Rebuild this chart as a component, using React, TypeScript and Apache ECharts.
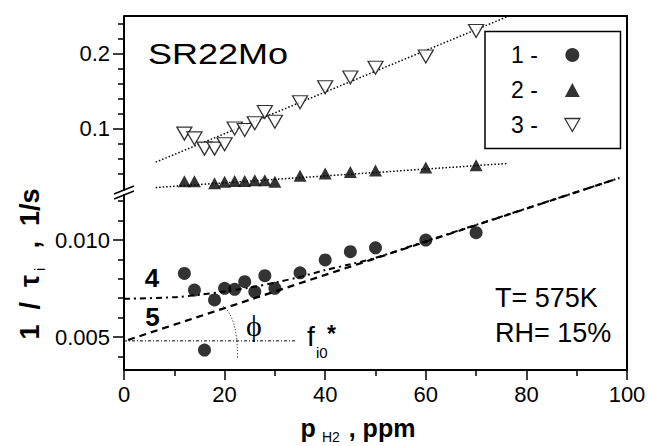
import React, { useEffect, useRef } from 'react';
import * as echarts from 'echarts';

// ---- data ----
const xTickStep = 20;
const series1X = [12, 14, 16, 18, 20, 22, 24, 26, 28, 30, 35, 40, 45, 50, 60, 70];
const series1Y = [0.00828, 0.00742, 0.00433, 0.00691, 0.00751, 0.00746, 0.00785, 0.00733, 0.00816, 0.00751, 0.00831, 0.00897, 0.0094, 0.0096, 0.0100, 0.01038];
const series2X = [12, 14, 18, 20, 22, 24, 26, 28, 30, 35, 40, 45, 50, 60, 70];
const series2Y = [0.0296, 0.0296, 0.027, 0.029, 0.030, 0.030, 0.031, 0.031, 0.029, 0.037, 0.040, 0.042, 0.044, 0.048, 0.051];
const series3X = [12, 14, 16, 18, 20, 22, 24, 26, 28, 30, 35, 40, 45, 50, 60, 70];
const series3Y = [0.0933, 0.0867, 0.0733, 0.0733, 0.079, 0.1, 0.098, 0.107, 0.122, 0.109, 0.135, 0.155, 0.168, 0.181, 0.196, 0.230];
const fit2 = [[6.3, 0.0213], [76.1, 0.0533]];
const fit3 = [[6.3, 0.0551], [76.1, 0.2488]];
const line5 = [[0.8, 0.00485], [98.5, 0.0132]];
const line4 = [[0, 0.00697], [10, 0.00705], [15, 0.00718], [20, 0.00735], [25, 0.00755], [30, 0.0078], [35, 0.0081], [40, 0.00845], [45, 0.00875], [50, 0.00908], [60, 0.00994], [70, 0.01078], [98.5, 0.0132]];
const fLine = [[0, 0.0048], [34, 0.0048]];
const upperMinorTicks = [0.04, 0.06, 0.08, 0.12, 0.14, 0.16, 0.18, 0.22, 0.24];
const upperMajorTicks = [0.1, 0.2];
const lowerMinorTicks = [0.004, 0.006, 0.007, 0.008, 0.009, 0.011, 0.012];
const lowerMajorTicks = [0.005, 0.010];
const legendNames = ['1 -', '2 -', '3 -'];

const FONT = '"Liberation Sans", Arial, sans-serif';
const pts = (xs: number[], ys: number[]) => xs.map((x, i) => [x, ys[i]]);
const downTri = 'path://M0,0 L10,0 L5,8.7 Z';

export default function App() {
  const ref = useRef<HTMLDivElement>(null);
  useEffect(() => {
    document.body.style.margin = '0';
    const chart = echarts.init(ref.current!, null, { renderer: 'svg' });
    const axisLine = { show: true, lineStyle: { color: '#000', width: 2 } };
    const label = { color: '#000', fontSize: 22, fontFamily: FONT };
    const lineBase = { type: 'line', showSymbol: false, symbol: 'none', silent: true, z: 1 };
    chart.setOption({
      animation: false,
      backgroundColor: '#fff',
      grid: [
        { left: 124, right: 21, top: 16, height: 174, containLabel: false, outerBoundsMode: 'none' },
        { left: 124, right: 21, top: 195, height: 175, containLabel: false, outerBoundsMode: 'none' },
      ],
      xAxis: [
        { gridIndex: 0, type: 'value', min: 0, max: 100, show: false },
        {
          gridIndex: 1, type: 'value', min: 0, max: 100, interval: xTickStep,
          axisLine, splitLine: { show: false },
          axisTick: { length: 10, lineStyle: { color: '#000', width: 1.5 } },
          minorTick: { show: true, splitNumber: 2, length: 6, lineStyle: { color: '#000', width: 1.5 } },
          axisLabel: { ...label, margin: 13 },
        },
      ],
      yAxis: [
        {
          gridIndex: 0, type: 'value', position: 'left', min: 0.018, max: 0.25, axisLine, splitLine: { show: false },
          axisTick: { show: true, customValues: upperMinorTicks, length: 6, lineStyle: { color: '#000', width: 1.5 } },
          axisLabel: { show: false },
        },
        {
          gridIndex: 0, type: 'value', position: 'left', offset: 0, min: 0.018, max: 0.25, axisLine: { show: false }, splitLine: { show: false },
          axisTick: { show: true, customValues: upperMajorTicks, length: 11, lineStyle: { color: '#000', width: 1.5 } },
          axisLabel: { ...label, margin: 14, customValues: upperMajorTicks },
        },
        {
          gridIndex: 1, type: 'value', position: 'left', min: 0.0033, max: 0.01232, axisLine, splitLine: { show: false },
          axisTick: { show: true, customValues: lowerMinorTicks, length: 6, lineStyle: { color: '#000', width: 1.5 } },
          axisLabel: { show: false },
        },
        {
          gridIndex: 1, type: 'value', position: 'left', offset: 0, min: 0.0033, max: 0.01232, axisLine: { show: false }, splitLine: { show: false },
          axisTick: { show: true, customValues: lowerMajorTicks, length: 11, lineStyle: { color: '#000', width: 1.5 } },
          axisLabel: { ...label, margin: 14, customValues: lowerMajorTicks, formatter: (v: number) => v.toFixed(3) },
        },
      ],
      legend: {
        orient: 'vertical', left: 485, top: 31.5, align: 'right',
        itemWidth: 15, itemHeight: 14, itemGap: 12,
        padding: [12, 40, 12, 26],
        borderColor: '#000', borderWidth: 1.5,
        textStyle: { color: '#000', fontSize: 23, fontFamily: FONT, lineHeight: 22, padding: [0, 22, 0, 0] },
        data: [
          { name: legendNames[0] },
          { name: legendNames[1] },
          { name: legendNames[2], itemStyle: { color: '#fff', borderColor: '#000', borderWidth: 1.3 } },
        ],
      },
      series: [
        { ...lineBase, name: 'fit3', xAxisIndex: 0, yAxisIndex: 0, data: fit3, lineStyle: { color: '#000', width: 1.5, type: [1.5, 2] } },
        { ...lineBase, name: 'fit2', xAxisIndex: 0, yAxisIndex: 0, data: fit2, lineStyle: { color: '#000', width: 1.5, type: [1.5, 2] } },
        { ...lineBase, name: 'line5', xAxisIndex: 1, yAxisIndex: 2, data: line5, clip: false, lineStyle: { color: '#000', width: 2.2, type: [7, 5] } },
        { ...lineBase, name: 'line4', xAxisIndex: 1, yAxisIndex: 2, data: line4, clip: false, smooth: 0.3, lineStyle: { color: '#000', width: 2, type: [6, 4, 2, 4] } },
        { ...lineBase, name: 'fLine', xAxisIndex: 1, yAxisIndex: 2, data: fLine, lineStyle: { color: '#000', width: 1, type: [3, 2, 1, 2] } },
        {
          type: 'scatter', name: legendNames[0], xAxisIndex: 1, yAxisIndex: 2, data: pts(series1X, series1Y),
          symbol: 'circle', symbolSize: 13, itemStyle: { color: '#000' }, z: 3,
        },
        {
          type: 'scatter', name: legendNames[1], xAxisIndex: 0, yAxisIndex: 0, data: pts(series2X, series2Y),
          symbol: 'triangle', symbolSize: [13, 12], itemStyle: { color: '#000' }, z: 3,
        },
        {
          type: 'scatter', name: legendNames[2], xAxisIndex: 0, yAxisIndex: 0, data: pts(series3X, series3Y),
          symbol: downTri, symbolSize: [15, 13], symbolKeepAspect: false,
          itemStyle: { color: '#fff', borderColor: '#000', borderWidth: 1.3 }, z: 3,
        },
      ],
      graphic: [
        { type: 'polyline', shape: { points: [[124, 16], [627, 16], [627, 370]] }, style: { stroke: '#000', lineWidth: 2, fill: null }, z: 10 },
        { type: 'line', shape: { x1: 114, y1: 194, x2: 134, y2: 186 }, style: { stroke: '#000', lineWidth: 1.5 }, z: 10 },
        { type: 'line', shape: { x1: 114, y1: 199, x2: 134, y2: 191 }, style: { stroke: '#000', lineWidth: 1.5 }, z: 10 },
        { type: 'text', x: 148, y: 54, scaleX: 1.2, style: { text: 'SR22Mo', fontSize: 30, fontFamily: FONT, fill: '#000', verticalAlign: 'middle' }, z: 10 },
        { type: 'text', x: 495, y: 298, style: { text: 'T= 575K', fontSize: 27, fontFamily: FONT, fill: '#000', verticalAlign: 'middle' }, z: 10 },
        { type: 'text', x: 495, y: 333, style: { text: 'RH= 15%', fontSize: 27, fontFamily: FONT, fill: '#000', verticalAlign: 'middle' }, z: 10 },
        { type: 'text', x: 152, y: 278, style: { text: '4', fontSize: 26, fontWeight: 'bold', fontFamily: FONT, fill: '#000', align: 'center', verticalAlign: 'middle' }, z: 10 },
        { type: 'text', x: 152.5, y: 317, style: { text: '5', fontSize: 26, fontWeight: 'bold', fontFamily: FONT, fill: '#000', align: 'center', verticalAlign: 'middle' }, z: 10 },
        { type: 'text', x: 254, y: 325, style: { text: 'ϕ', fontSize: 30, fontFamily: '"Liberation Serif", "DejaVu Serif", serif', fill: '#000', align: 'center', verticalAlign: 'middle' }, z: 10 },
        { type: 'text', x: 307, y: 336, style: { text: 'f', fontSize: 28, fontFamily: FONT, fill: '#000', verticalAlign: 'middle' }, z: 10 },
        { type: 'text', x: 316, y: 352, style: { text: 'i0', fontSize: 15, fontFamily: FONT, fill: '#000', verticalAlign: 'middle' }, z: 10 },
        { type: 'text', x: 327, y: 334, style: { text: '*', fontSize: 23, fontWeight: 'bold', fontFamily: FONT, fill: '#000', verticalAlign: 'middle' }, z: 10 },
        { type: 'bezierCurve', shape: { x1: 223, y1: 306, cpx1: 238, cpy1: 318, x2: 237.5, y2: 358 }, style: { stroke: '#000', lineWidth: 1, lineDash: [1, 2], fill: null }, z: 10 },
        {
          type: 'text', x: 358, y: 428,
          style: {
            text: '{a|p}{s|H2}{a| , ppm}', align: 'center', verticalAlign: 'middle', fill: '#000',
            rich: {
              a: { fontSize: 25, fontWeight: 'bold', fontFamily: FONT, lineHeight: 32, verticalAlign: 'middle' },
              s: { fontSize: 14, fontWeight: 'normal', fontFamily: FONT, lineHeight: 14, verticalAlign: 'bottom', padding: [0, 2, 0, 6] },
            },
          }, z: 10,
        },
        {
          type: 'text', x: 30, y: 264, rotation: Math.PI / 2,
          style: {
            text: '{a|1  /  τ}{s|i}{a|  ,  1/s}', align: 'center', verticalAlign: 'middle', fill: '#000',
            rich: {
              a: { fontSize: 27, fontWeight: 'bold', fontFamily: FONT, lineHeight: 34, verticalAlign: 'middle' },
              s: { fontSize: 15, fontWeight: 'normal', fontFamily: FONT, lineHeight: 15, verticalAlign: 'bottom', padding: [0, 4, 0, 4] },
            },
          }, z: 10,
        },
      ],
    });
    return () => chart.dispose();
  }, []);
  return <div ref={ref} style={{ width: 648, height: 446 }} />;
}
